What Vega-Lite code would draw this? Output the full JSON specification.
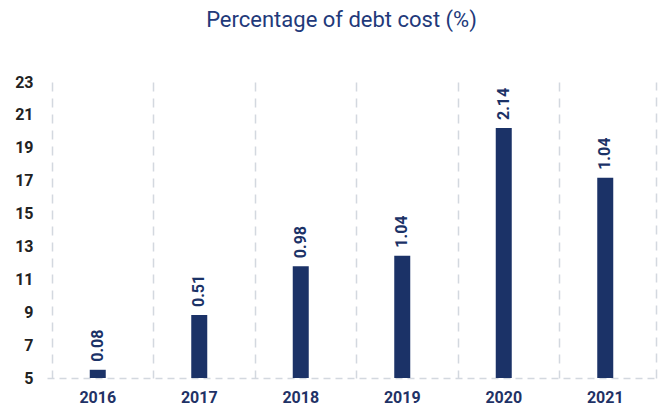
{
  "$schema": "https://vega.github.io/schema/vega-lite/v6.json",
  "width": 609,
  "height": 296,
  "autosize": {"type": "none"},
  "padding": {"left": 47, "top": 82, "right": 15, "bottom": 32},
  "background": "white",
  "config": {
    "view": {"stroke": null},
    "font": "Roboto"
  },
  "title": {
    "text": "Percentage of debt cost (%)",
    "font": "Roboto",
    "fontSize": 22,
    "fontWeight": "normal",
    "color": "#22397a",
    "anchor": "middle",
    "frame": "group",
    "dx": -10,
    "offset": 42
  },
  "data": {
    "values": [
      {"year": "2016", "value": 5.5, "label": "0.08"},
      {"year": "2017", "value": 8.83, "label": "0.51"},
      {"year": "2018", "value": 11.8, "label": "0.98"},
      {"year": "2019", "value": 12.44, "label": "1.04"},
      {"year": "2020", "value": 20.2, "label": "2.14"},
      {"year": "2021", "value": 17.17, "label": "1.04"}
    ]
  },
  "encoding": {
    "x": {
      "field": "year",
      "type": "nominal",
      "title": null,
      "axis": {
        "labelAngle": 0,
        "labelFont": "Roboto",
        "labelFontSize": 16,
        "labelFontWeight": "bold",
        "labelColor": "#1f3266",
        "labelPadding": 11,
        "ticks": false,
        "domain": true,
        "domainColor": "#d3d8df",
        "domainWidth": 1.5,
        "domainDash": [7, 5],
        "grid": true,
        "gridColor": "#d3d8df",
        "gridWidth": 1.5,
        "gridDash": [9, 7],
        "bandPosition": 0
      }
    }
  },
  "layer": [
    {
      "mark": {"type": "bar", "size": 16, "color": "#1b3267"},
      "encoding": {
        "y": {
          "field": "value",
          "type": "quantitative",
          "title": null,
          "scale": {"domain": [5, 23], "zero": false, "nice": false},
          "axis": {
            "values": [5, 7, 9, 11, 13, 15, 17, 19, 21, 23],
            "labelFont": "Roboto",
            "labelFontSize": 16,
            "labelFontWeight": "bold",
            "labelColor": "#222222",
            "labelPadding": 14,
            "ticks": false,
            "domain": false,
            "grid": false
          }
        },
        "y2": {"datum": 5}
      }
    },
    {
      "mark": {
        "type": "text",
        "angle": -90,
        "align": "left",
        "baseline": "middle",
        "dx": 8,
        "font": "Roboto",
        "fontSize": 16,
        "fontWeight": "bold",
        "color": "#1b3267"
      },
      "encoding": {
        "y": {
          "field": "value",
          "type": "quantitative",
          "scale": {"domain": [5, 23], "zero": false, "nice": false},
          "axis": {
            "orient": "right",
            "labels": false,
            "ticks": false,
            "title": null,
            "grid": false,
            "domain": true,
            "domainColor": "#d3d8df",
            "domainWidth": 1.5,
            "domainDash": [9, 7]
          }
        },
        "text": {"field": "label"}
      }
    }
  ],
  "resolve": {"axis": {"y": "independent"}}
}
